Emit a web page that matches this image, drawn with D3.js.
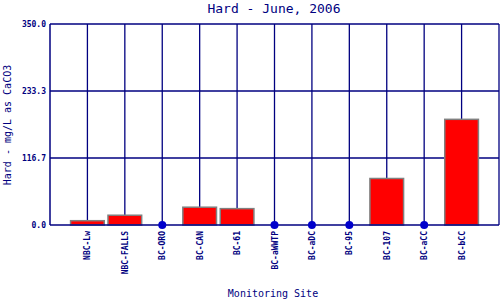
<!DOCTYPE html>
<html>
<head>
<meta charset="utf-8">
<script src="https://cdn.jsdelivr.net/npm/d3@7"></script>
<style>
  body { margin: 0; background: #fff; }
  text { font-family: "DejaVu Sans Mono", monospace; fill: #000080; }
</style>
</head>
<body>
<svg id="chart" width="500" height="300"></svg>
<script>
// chart data
const sites = ["NBC-Lw", "NBC-FALLS", "BC-ORO", "BC-CAN", "BC-61", "BC-aWWTP",
               "BC-aDC", "BC-95", "BC-107", "BC-aCC", "BC-bCC"];
const hardness = [7.5, 17, 0, 31, 28.5, 0, 0, 0, 81, 0, 184];
const yTicks = [0, 116.7, 233.3, 350];

const svg = d3.select("#chart");
const plotL = 50, plotR = 499, plotT = 24, plotB = 225;
const navy = "#000080";

// 12 equal slots, sites sit on the inner boundaries
let x = d3.scalePoint().domain(sites).range([plotL, plotR]).padding(1);
let y = d3.scaleLinear().domain([0, 350]).range([plotB, plotT]);
let step = x.step();

// frame and grid
svg.append("g").selectAll("line").data(yTicks.slice(1)).enter().append("line")
    .attr("x1", plotL).attr("x2", plotR)
    .attr("y1", d => y(d)).attr("y2", d => y(d))
    .attr("stroke", navy).attr("stroke-width", 1.3);

svg.append("g").selectAll("line").data(sites).enter().append("line")
    .attr("x1", d => x(d)).attr("x2", d => x(d))
    .attr("y1", plotT).attr("y2", plotB)
    .attr("stroke", navy).attr("stroke-width", 1.3);

svg.append("line").attr("x1", plotR).attr("x2", plotR).attr("y1", plotT).attr("y2", plotB)
    .attr("stroke", navy).attr("stroke-width", 1.3);

// bars
let barW = step * 0.9;
svg.append("g").selectAll("rect").data(sites.filter((s, i) => hardness[i] > 0)).enter().append("rect")
    .attr("x", d => x(d) - barW / 2)
    .attr("width", barW)
    .attr("y", d => y(hardness[sites.indexOf(d)]))
    .attr("height", d => plotB - y(hardness[sites.indexOf(d)]))
    .attr("fill", "#ff0000")
    .attr("stroke", "#808080").attr("stroke-width", 1.5);

// axes lines on top
svg.append("line").attr("x1", plotL).attr("x2", plotR).attr("y1", plotB).attr("y2", plotB)
    .attr("stroke", navy).attr("stroke-width", 1.5);
svg.append("line").attr("x1", plotL).attr("x2", plotL).attr("y1", plotT).attr("y2", plotB)
    .attr("stroke", navy).attr("stroke-width", 1.5);

// zero readings as dots
svg.append("g").selectAll("circle").data(sites.filter((s, i) => hardness[i] === 0)).enter().append("circle")
    .attr("cx", d => x(d)).attr("cy", plotB).attr("r", 4)
    .attr("fill", "#0000cc");

// y tick labels
svg.append("g").selectAll("text").data(yTicks).enter().append("text")
    .attr("x", plotL - 4).attr("y", d => y(d) + 3)
    .attr("text-anchor", "end")
    .attr("font-size", 8).attr("font-weight", "bold")
    .text(d => d.toFixed(1));

// x labels
svg.append("g").selectAll("text").data(sites).enter().append("text")
    .attr("transform", d => "translate(" + (x(d) + 3) + "," + (plotB + 6) + ") rotate(-90)")
    .attr("text-anchor", "end")
    .attr("font-size", 8).attr("font-weight", "bold")
    .text(d => d);

// titles
svg.append("text").attr("x", 274).attr("y", 13).attr("text-anchor", "middle")
    .attr("font-size", 13).text("Hard - June, 2006");
svg.append("text").attr("x", 273).attr("y", 297).attr("text-anchor", "middle")
    .attr("font-size", 10).text("Monitoring Site");
svg.append("text").attr("transform", "translate(11,125) rotate(-90)").attr("text-anchor", "middle")
    .attr("font-size", 10).text("Hard - mg/L as CaCO3");
</script>
</body>
</html>
